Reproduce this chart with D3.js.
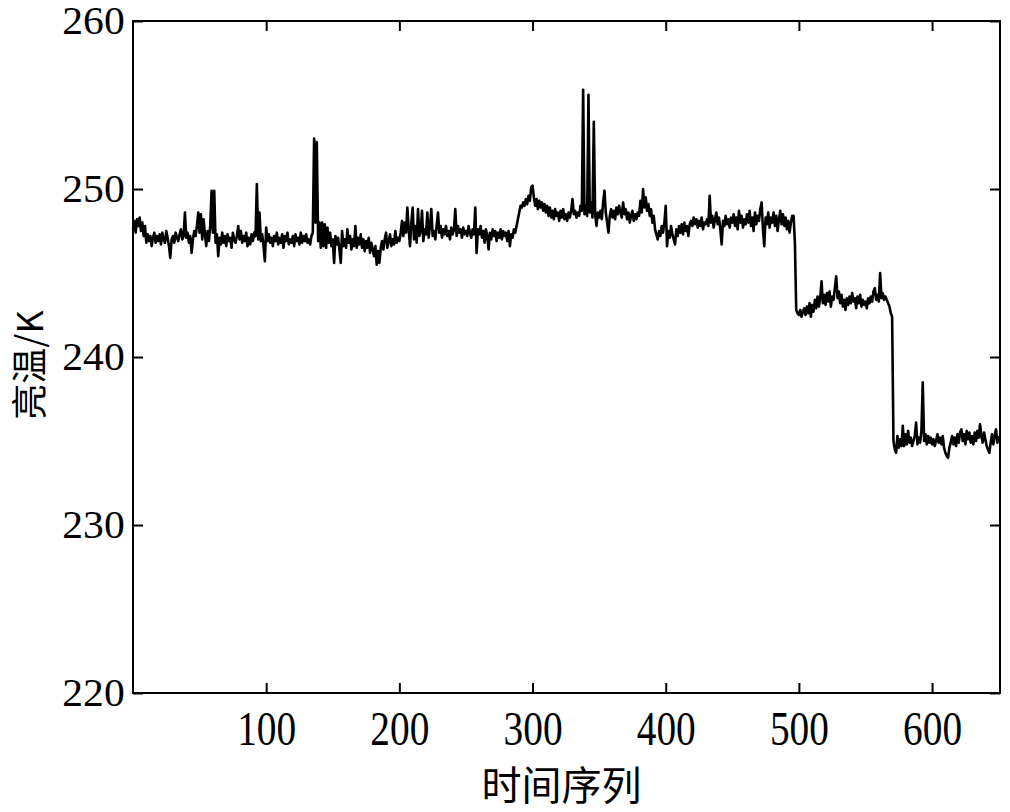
<!DOCTYPE html>
<html>
<head>
<meta charset="utf-8">
<script src="https://cdn.jsdelivr.net/npm/d3@7"></script>
<style>
  body { margin: 0; background: #fff; }
  #chart text { fill: #000; }
</style>
</head>
<body>
<div id="chart"></div>
<script>
// Tick values for both axes
var xTicks = [100, 200, 300, 400, 500, 600];
var yTicks = [220, 230, 240, 250, 260];

// Brightness temperature (K), one value per time step
var tempValues = [
  247.6, 248.1, 247.4, 248.2, 247.8, 248.3, 247.5, 248.0, 247.2, 247.8,
  246.8, 247.3, 246.9, 247.2, 246.6, 247.1, 247.4, 246.8, 247.2, 246.9,
  247.3, 246.7, 247.4, 247.0, 246.8, 247.5, 247.1, 246.6, 245.9, 247.0,
  247.2, 246.8, 247.4, 247.1, 246.9, 247.3, 247.6, 247.0, 247.2, 248.6,
  247.1, 247.4, 246.8, 247.2, 246.2, 247.0, 247.5, 247.2, 247.8, 248.6,
  247.4, 248.5, 247.0, 248.2, 247.3, 246.6, 247.5, 246.9, 247.8, 249.9,
  247.4, 249.9, 246.8, 247.3, 246.0, 247.1, 246.7, 247.4, 246.8, 247.2,
  246.6, 247.3, 246.9, 247.1, 246.5, 247.4, 247.0, 246.8, 247.2, 247.8,
  247.0, 247.5, 246.8, 247.2, 246.9, 247.4, 246.6, 247.1, 246.7, 247.3,
  246.9, 247.4, 247.2, 250.3, 247.0, 248.6, 246.9, 247.3, 246.6, 245.7,
  247.7, 246.9, 247.3, 246.8, 247.1, 246.6, 247.2, 246.9, 247.4, 246.7,
  247.1, 246.8, 247.3, 246.5, 247.2, 246.9, 247.4, 246.7, 247.0, 246.8,
  247.2, 246.6, 247.3, 246.9, 247.1, 246.7, 247.4, 246.8, 247.2, 246.9,
  247.3, 246.8, 247.0, 246.7, 247.2, 247.4, 253.0, 248.0, 252.8, 246.9,
  248.0, 246.5, 248.0, 246.6, 247.9, 246.5, 247.7, 246.8, 247.4, 246.6,
  247.0, 245.6, 247.2, 246.7, 247.1, 246.4, 245.6, 247.5, 246.6, 247.0,
  246.5, 247.6, 246.8, 247.2, 246.4, 247.0, 246.6, 247.8, 246.5, 247.1,
  246.7, 247.3, 246.5, 247.0, 246.3, 246.9, 246.5, 247.1, 246.2, 246.8,
  246.4, 246.0, 246.6, 245.5, 246.3, 245.6, 246.5, 246.9, 246.4, 247.0,
  247.4, 246.5, 246.9, 247.3, 246.6, 247.0, 246.7, 247.5, 246.8, 247.1,
  246.9, 247.4, 248.1, 247.2, 248.0, 247.4, 248.9, 247.6, 246.6, 248.0,
  248.9, 247.0, 247.8, 246.8, 248.8, 247.2, 247.5, 248.7, 246.9, 247.6,
  247.3, 248.6, 247.1, 247.8, 248.8, 247.2, 247.5, 247.0, 247.8, 248.6,
  247.4, 247.8, 247.1, 247.6, 247.3, 247.8, 247.2, 247.5, 247.0, 247.7,
  247.3, 247.6, 248.8, 247.2, 247.8, 247.4, 247.6, 247.1, 247.7, 247.3,
  247.5, 247.2, 247.8, 247.4, 247.1, 247.6, 247.3, 248.9, 246.2, 247.6,
  247.3, 247.8, 247.1, 247.5, 246.8, 247.6, 247.2, 246.4, 247.4, 247.0,
  247.6, 247.2, 247.5, 246.9, 247.4, 247.1, 247.6, 247.0, 247.5, 247.2,
  247.4, 246.9, 247.5, 246.6, 247.3, 247.1, 247.6, 247.4, 247.8, 248.2,
  248.6, 249.0, 248.9, 249.2, 249.0, 249.4, 249.1, 249.6, 249.3, 250.1,
  250.2, 249.5, 249.0, 249.4, 248.8, 249.3, 248.9, 249.2, 248.7, 249.1,
  248.6, 249.0, 248.4, 248.9, 248.3, 248.7, 248.2, 248.8, 248.4, 248.6,
  248.1, 248.7, 248.3, 248.8, 248.2, 248.5, 248.1, 248.6, 248.3, 248.7,
  249.4, 248.5, 248.7, 248.3, 248.6, 248.4, 249.0, 248.7, 255.9, 248.5,
  249.0, 248.4, 255.6, 248.6, 249.2, 248.3, 254.0, 248.5, 247.8, 248.6,
  248.3, 248.7, 248.2, 249.2, 249.9, 248.6, 248.0, 247.4, 248.4, 248.8,
  248.3, 248.7, 248.2, 248.9, 248.5, 249.0, 248.6, 248.3, 249.2, 248.5,
  248.8, 248.2, 248.6, 248.0, 248.4, 248.7, 248.1, 248.5, 248.2, 248.6,
  248.4, 249.3, 248.6, 250.0, 248.9, 249.5, 248.7, 249.1, 248.4, 248.8,
  248.0, 248.4, 247.6, 247.3, 247.0, 247.5, 247.2, 247.8, 247.4, 248.0,
  249.0, 246.6, 247.5, 247.1, 247.8, 247.3, 247.0, 246.7, 247.6, 247.2,
  247.8, 247.4, 247.9, 247.3, 248.0, 247.5, 247.8, 247.2, 247.9, 248.1,
  247.8, 248.3, 247.9, 248.2, 247.7, 248.1, 247.8, 248.3, 247.6, 248.0,
  247.9, 248.2, 247.8, 249.6, 248.0, 248.4, 247.7, 248.2, 248.6, 247.9,
  248.3, 247.6, 246.7, 248.1, 247.8, 248.4, 247.9, 248.2, 247.7, 248.3,
  248.0, 248.5, 247.8, 248.3, 247.6, 248.7, 248.0, 248.4, 247.7, 248.2,
  247.9, 248.5, 248.0, 248.7, 247.8, 248.3, 247.5, 248.6, 247.9, 248.4,
  248.1, 248.8, 249.2, 247.6, 246.6, 248.3, 247.9, 248.6, 247.7, 248.3,
  248.0, 248.6, 247.8, 248.4, 247.5, 248.2, 248.7, 247.9, 248.5, 247.8,
  248.3, 247.6, 248.1, 247.4, 248.0, 248.4, 248.4, 246.8, 242.8, 242.6,
  242.5, 242.8, 242.4, 242.7, 242.9, 242.5, 243.0, 242.6, 243.2, 242.4,
  243.1, 242.7, 243.4, 242.9, 243.6, 243.0, 243.5, 244.5, 243.2, 243.7,
  243.1, 243.8, 243.3, 243.9, 243.0, 243.6, 243.4, 244.1, 244.8, 243.5,
  243.9, 243.2, 243.7, 243.0, 243.4, 242.8, 243.5, 243.1, 243.6, 243.2,
  243.8, 243.3, 243.5, 242.9, 243.6, 243.2, 243.7, 243.0, 243.4, 243.1,
  243.3, 242.9, 243.5, 243.2, 243.6, 243.3, 243.9, 244.1, 243.4, 243.7,
  243.3, 245.0, 243.5, 243.8, 243.4, 243.6, 243.4, 243.2, 243.0, 242.6,
  242.4, 235.0, 234.5, 234.3, 235.3, 234.6, 235.1, 234.7, 235.9, 234.7,
  235.4, 234.8, 235.6, 234.9, 235.2, 234.7, 235.0, 235.3, 236.1, 234.8,
  235.2, 234.9, 235.6, 238.5, 235.0, 235.4, 234.8, 235.3, 234.9, 235.2,
  234.8, 235.1, 234.7, 235.0, 235.4, 234.9, 235.2, 234.8, 235.3, 234.6,
  234.3, 234.1, 234.0, 234.6, 234.9, 235.3, 234.8, 235.2, 234.7, 235.4,
  234.9, 235.5, 235.7, 235.0, 235.4, 234.8, 235.6, 235.1, 235.5, 234.9,
  235.3, 234.8, 235.5, 235.0, 235.6, 235.2, 236.0, 235.3, 234.9, 235.5,
  235.1, 234.7, 234.5, 234.3, 234.9, 235.4, 234.8, 235.3, 235.7, 234.9,
  235.3
];

// Layout
var margin = { top: 21, right: 10, bottom: 119, left: 133 };
var fullW = 1010, fullH = 812;
var width = fullW - margin.left - margin.right;
var height = fullH - margin.top - margin.bottom;

var svg = d3.select("#chart")
  .append("svg")
  .attr("width", fullW)
  .attr("height", fullH)
  .append("g")
  .attr("transform", "translate(" + margin.left + "," + margin.top + ")");

// Scales
var x = d3.scaleLinear().domain([0, 651]).range([0, width]);
var y = d3.scaleLinear().domain([220, 260]).range([height, 0]);

// Bottom axis, inward ticks, narrow serif labels
var xAxis = svg.append("g")
  .attr("transform", "translate(0," + height + ")")
  .call(d3.axisBottom(x).tickValues(xTicks).tickSize(-10).tickPadding(18));
xAxis.selectAll("text")
  .style("font-family", "'Liberation Serif', 'DejaVu Serif', serif")
  .style("font-size", "48px")
  .attr("transform", "scale(0.82,1)");

// Top axis, ticks only
svg.append("g")
  .call(d3.axisTop(x).tickValues(xTicks).tickSize(-10).tickFormat(""));

// Left axis
var yAxis = svg.append("g")
  .call(d3.axisLeft(y).tickValues(yTicks).tickSize(-10).tickPadding(8));
yAxis.selectAll("text")
  .style("font-family", "'Liberation Serif', 'DejaVu Serif', serif")
  .style("font-size", "40px")
  .attr("transform", "scale(1.04,1)");

// Right axis, ticks only
svg.append("g")
  .attr("transform", "translate(" + width + ",0)")
  .call(d3.axisRight(y).tickValues(yTicks).tickSize(-10).tickFormat(""));

svg.selectAll(".domain").remove();
svg.selectAll(".tick line")
  .attr("stroke", "#000")
  .attr("stroke-width", 2);

// Frame round the plot
svg.append("rect")
  .attr("x", 0)
  .attr("y", 0)
  .attr("width", width)
  .attr("height", height)
  .attr("fill", "none")
  .attr("stroke", "#000")
  .attr("stroke-width", 2);

// The series
var line = d3.line()
  .x(function(d, i) { return x(i); })
  .y(function(d) { return y(d); });

svg.append("path")
  .datum(tempValues)
  .attr("d", line)
  .attr("fill", "none")
  .attr("stroke", "#000")
  .attr("stroke-width", 2.6)
  .attr("stroke-linejoin", "round");

// Axis titles
svg.append("text")
  .attr("x", (478 + 645) / 2 - margin.left)
  .attr("y", 800 - margin.top)
  .attr("text-anchor", "middle")
  .style("font-family", "'Noto Sans CJK SC', sans-serif")
  .style("font-size", "40px")
  .text("时间序列");

svg.append("text")
  .attr("transform", "translate(" + (43 - margin.left) + "," + (365 - margin.top) + ") rotate(-90)")
  .attr("text-anchor", "middle")
  .style("font-family", "'Noto Sans CJK SC', 'Liberation Serif', sans-serif")
  .style("font-size", "36px")
  .text("亮温/K");
</script>
</body>
</html>
